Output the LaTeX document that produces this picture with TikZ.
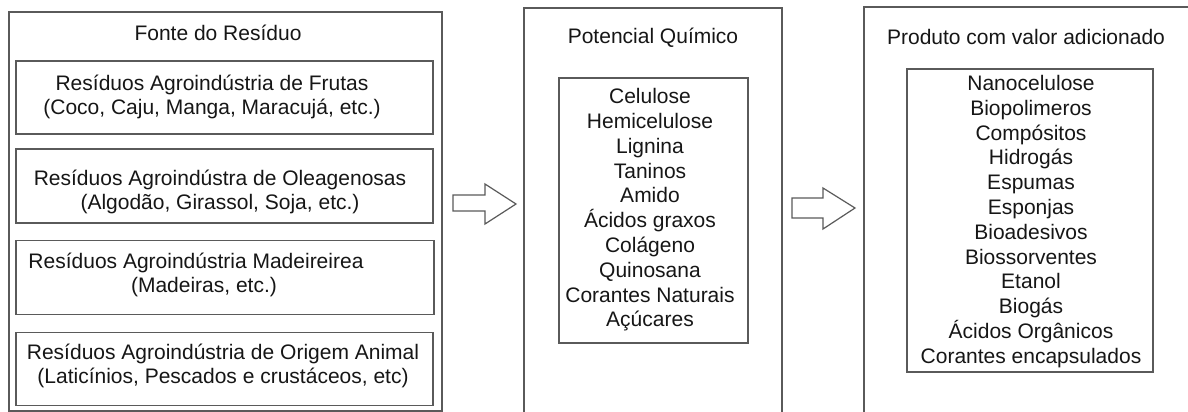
\documentclass[tikz,border=0pt]{standalone}
\usepackage{fontspec}
\setmainfont{Liberation Sans}
\definecolor{linegray}{HTML}{5A5A5A}
\definecolor{textgray}{HTML}{161616}
\begin{document}
\begin{tikzpicture}[x=1pt,y=-1pt,
  box/.style={draw=linegray,line width=1.4pt,rectangle,inner sep=0pt},
  txt/.style={text=textgray,inner sep=0pt,align=center,font=\fontsize{21}{24}\selectfont},
  lst/.style={text=textgray,inner sep=0pt,align=center,font=\fontsize{21}{24.8}\selectfont},
  blockarrow/.style={draw=linegray,line width=1.2pt,fill=white,line join=miter}]
\useasboundingbox (0,0) rectangle (1188,412);
\clip (0,0) rectangle (1188,412);
\fill[white] (0,0) rectangle (1188,412);
% left column
\node[box,minimum width=433pt,minimum height=399pt] (src) at (225.5,211.5) {};
\node[txt] (srctitle) at (218,33) {Fonte do Resíduo};
\node[box,minimum width=417pt,minimum height=73pt] (b1) at (224.5,97.5) {};
\node[box,minimum width=417pt,minimum height=74pt] (b2) at (224.5,186) {};
\node[box,minimum width=418pt,minimum height=74pt] (b3) at (225,277.5) {};
\node[box,minimum width=417pt,minimum height=73pt] (b4) at (224.5,369) {};
\node[txt] (t1) at (212,97) {Resíduos Agroindústria de Frutas\\(Coco, Caju, Manga, Maracujá, etc.)};
\node[txt] (t2) at (220,192) {Resíduos Agroindústra de Oleagenosas\\(Algodão, Girassol, Soja, etc.)};
\node[txt] (t3) at (196,275) {Resíduos Agroindústria Madeireirea\\\hspace*{16pt}(Madeiras, etc.)};
\node[txt] (t4) at (223,366) {Resíduos Agroindústria de Origem Animal\\(Laticínios, Pescados e crustáceos, etc)};
% middle column
\node[box,minimum width=258pt,minimum height=420pt] (pot) at (653,218) {};
\node[txt] (pottitle) at (653,38) {Potencial Químico};
\node[box,minimum width=189pt,minimum height=265pt] (potin) at (653.5,210.5) {};
\node[lst] (potlist) at (650,210) {Celulose\\Hemicelulose\\Lignina\\Taninos\\Amido\\Ácidos graxos\\Colágeno\\Quinosana\\Corantes Naturais\\Açúcares};
% right column
\node[box,minimum width=340pt,minimum height=420pt] (prod) at (1034,217) {};
\node[txt] (prodtitle) at (1026,37) {Produto com valor adicionado};
\node[box,minimum width=246pt,minimum height=303pt] (prodin) at (1030,220.5) {};
\node[lst] (prodlist) at (1031,221.5) {Nanocelulose\\Biopolimeros\\Compósitos\\Hidrogás\\Espumas\\Esponjas\\Bioadesivos\\Biossorventes\\Etanol\\Biogás\\Ácidos Orgânicos\\Corantes encapsulados};
% block arrows
\draw[blockarrow] (453,195) -- (485,195) -- (485,184) -- (516,204) -- (485,224) -- (485,211) -- (453,211) -- cycle;
\draw[blockarrow] (792,198) -- (823,198) -- (823,188) -- (855,208) -- (823,229) -- (823,218) -- (792,218) -- cycle;
\end{tikzpicture}
\end{document}
